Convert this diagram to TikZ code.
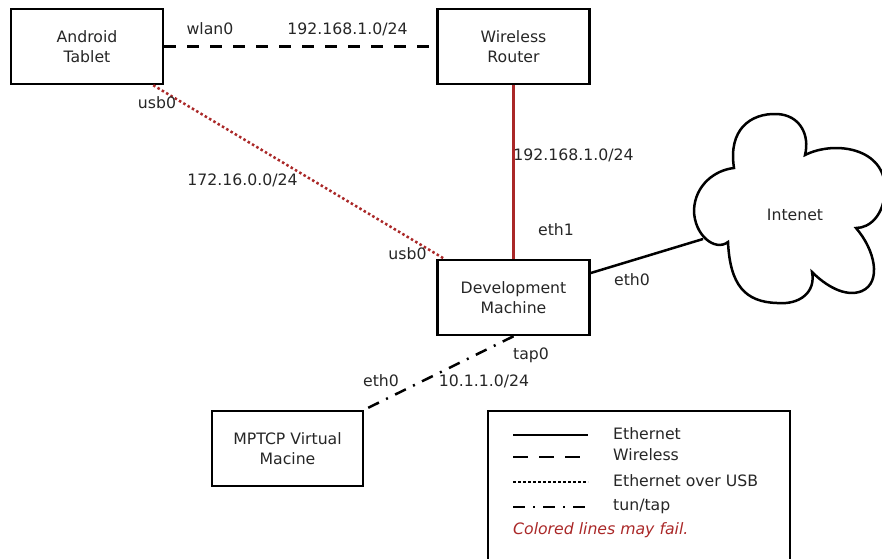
\documentclass[tikz,border=0pt]{standalone}
\usepackage{fontspec}
\setmainfont{DejaVu Sans}
\begin{document}
\begin{tikzpicture}[x=1pt,y=-1pt,
  txt/.style={font=\fontsize{15.7}{20.5}\selectfont, text=black!85, inner sep=0pt},
  box/.style={draw, line width=2.5pt, minimum width=152pt, minimum height=75pt, align=center, txt},
  lbl/.style={txt},
  lineth/.style={line width=2.5pt},
  wifi/.style={line width=2.5pt, dash pattern=on 12pt off 11pt},
  usb/.style={line width=2.5pt, dash pattern=on 2.5pt off 2.5pt},
  tun/.style={line width=2.5pt, dash pattern=on 12pt off 8pt on 2pt off 8pt},
]
\definecolor{linkred}{RGB}{170,40,40}
\useasboundingbox (0,0) rectangle (882,558);

% nodes
\node[box] (tab) at (87,46.5) {Android\\Tablet};
\node[box] (rtr) at (513.5,46.5) {Wireless\\Router};
\node[box] (dev) at (513.5,297.5) {Development\\Machine};
\node[box, minimum width=151pt] (vm) at (287.5,448.5) {MPTCP Virtual\\Macine};

% cloud
\draw[line width=2.5pt]
  (734,168) .. controls (728,130) and (750,113) .. (777,114)
  .. controls (800,115) and (810,135) .. (805,155)
  .. controls (835,140) and (886,148) .. (885,190)
  .. controls (884,215) and (870,228) .. (856,228)
  .. controls (875,250) and (882,282) .. (862,291)
  .. controls (845,298) and (825,285) .. (812,272)
  .. controls (816,292) and (800,305) .. (777,303)
  .. controls (745,302) and (730,285) .. (728,242)
  .. controls (715,252) and (694,235) .. (694,210)
  .. controls (695,185) and (715,170) .. (734,168) -- cycle;
\node[lbl] (net) at (795,215) {Intenet};
\coordinate (netin) at (703,239);

% connectors
\draw[wifi] (tab.east) -- (rtr.west);
\draw[lineth, linkred] (rtr.south) -- (dev.north);
\draw[usb, linkred] ([xshift=-11pt]tab.south east) -- ([xshift=8pt]dev.north west);
\draw[lineth] ([yshift=24.5pt]dev.east) -- (netin);
\draw[tun] (dev.south) -- (vm.north east);

% labels
\node[lbl] (l1) at (210,29) {wlan0};
\node[lbl] (l2) at (347.5,29) {192.168.1.0/24};
\node[lbl] (l3) at (573.5,155) {192.168.1.0/24};
\node[lbl] (l4) at (157,103) {usb0};
\node[lbl] (l5) at (242.5,180) {172.16.0.0/24};
\node[lbl] (l6) at (407.5,254) {usb0};
\node[lbl] (l7) at (556,230) {eth1};
\node[lbl] (l8) at (632,280) {eth0};
\node[lbl] (l9) at (531,355) {tap0};
\node[lbl] (l10) at (381,381) {eth0};
\node[lbl] (l11) at (484,381) {10.1.1.0/24};

% legend
\draw[line width=2.5pt] (488,411) rectangle (790,575);
\coordinate (a1) at (513,435); \coordinate (b1) at (588,435);
\coordinate (a2) at (513,457); \coordinate (b2) at (588,457);
\coordinate (a3) at (513,482); \coordinate (b3) at (588,482);
\coordinate (a4) at (513,507); \coordinate (b4) at (588,507);
\draw[lineth] (a1) -- (b1);
\draw[line width=2.5pt, dash pattern=on 15pt off 11pt] (a2) -- (b2);
\draw[usb] (a3) -- (b3);
\draw[tun] (a4) -- (b4);
\node[lbl, anchor=west] (e1) at (613,434) {Ethernet};
\node[lbl, anchor=west] (e2) at (613,455) {Wireless};
\node[lbl, anchor=west] (e3) at (613,481) {Ethernet over USB};
\node[lbl, anchor=west] (e4) at (613,506) {tun/tap};
\node[lbl, anchor=west, text=linkred, font=\fontsize{15.7}{20}\selectfont\itshape] (e5) at (513,530) {Colored lines may fail.};
\end{tikzpicture}
\end{document}
